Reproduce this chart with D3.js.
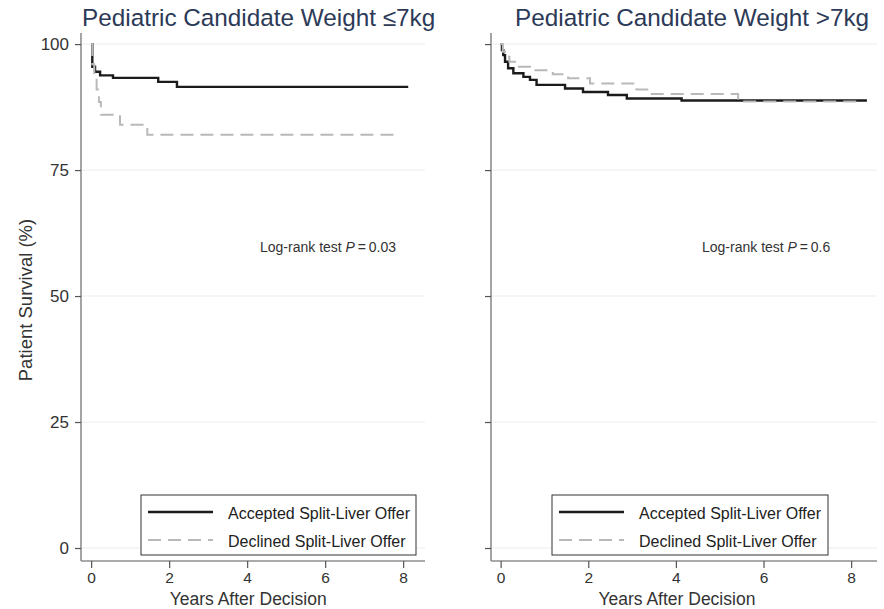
<!DOCTYPE html>
<html>
<head>
<meta charset="utf-8">
<script src="https://cdn.jsdelivr.net/npm/d3@7"></script>
<style>
  html, body { margin: 0; padding: 0; background: #fff; }
  svg { display: block; font-family: "Liberation Sans", Arial, Helvetica, sans-serif; }
</style>
</head>
<body>
<svg id="chart" width="884" height="609"></svg>
<script>
// Kaplan-Meier survival estimates (years after decision, % surviving)
const lightAcceptedTime = [0, 0.03, 0.1, 0.23, 0.56, 1.72, 2.2, 8.13];
const lightAcceptedSurv = [100, 95.5, 94.5, 93.8, 93.3, 92.5, 91.5, 91.5];
const lightDeclinedTime = [0, 0.03, 0.08, 0.14, 0.2, 0.25, 0.74, 1.44, 7.87];
const lightDeclinedSurv = [100, 96, 93.5, 91, 88.5, 86, 84, 82, 82];

const heavyAcceptedTime = [0, 0.03, 0.06, 0.1, 0.17, 0.29, 0.52, 0.67, 0.82, 1.47, 1.88, 2.45, 2.88, 4.13, 8.36];
const heavyAcceptedSurv = [100, 98.8, 97.8, 96.5, 95.2, 94.2, 93.5, 92.9, 91.9, 91.2, 90.5, 89.9, 89.2, 88.8, 88.8];
const heavyDeclinedTime = [0, 0.05, 0.1, 0.2, 0.33, 0.74, 1.19, 1.54, 2.04, 3.1, 3.45, 5.42, 8.13];
const heavyDeclinedSurv = [100, 98.5, 97.5, 96.5, 95.5, 94.8, 94.0, 93.2, 92.2, 91.0, 90.1, 88.6, 88.6];

const panelTitles = ["Pediatric Candidate Weight \u22647kg", "Pediatric Candidate Weight >7kg"];
const pValues = ["0.03", "0.6"];
const seriesNames = ["Accepted Split-Liver Offer", "Declined Split-Liver Offer"];
const yTicks = [0, 25, 50, 75, 100];
const xTicks = [0, 2, 4, 6, 8];

const svg = d3.select("#chart");

const panels = [
  {
    left: 81, right: 425, xMin: -0.26, xMax: 8.56, showYLabels: true,
    title: panelTitles[0], titleX: 82, p: pValues[0], textX: 260,
    legend: { x: 141, w: 275 },
    series: [
      { t: lightAcceptedTime, s: lightAcceptedSurv, style: "solid" },
      { t: lightDeclinedTime, s: lightDeclinedSurv, style: "dash" }
    ]
  },
  {
    left: 491, right: 877, xMin: -0.22, xMax: 8.59, showYLabels: false,
    title: panelTitles[1], titleX: 515, p: pValues[1], textX: 702,
    legend: { x: 552, w: 276 },
    series: [
      { t: heavyAcceptedTime, s: heavyAcceptedSurv, style: "solid" },
      { t: heavyDeclinedTime, s: heavyDeclinedSurv, style: "dash" }
    ]
  }
];

const styles = {
  solid: { stroke: "#1b1b1b", width: 2.4, dash: null },
  dash: { stroke: "#b9b9b9", width: 2, dash: "13,7" }
};

const plotTop = 33, plotBottom = 561;
const y = d3.scaleLinear().domain([-2.58, 102.2]).range([plotBottom, plotTop]);

panels.forEach(p => {
  const x = d3.scaleLinear().domain([p.xMin, p.xMax]).range([p.left, p.right]);
  const g = svg.append("g");

  // faint horizontal grid
  g.selectAll("line.grid").data(yTicks).join("line")
    .attr("class", "grid")
    .attr("x1", p.left).attr("x2", p.right)
    .attr("y1", d => y(d)).attr("y2", d => y(d))
    .attr("stroke", "#ececec").attr("stroke-width", 1);

  // y axis
  const yAxis = d3.axisLeft(y).tickValues(yTicks).tickSize(6).tickPadding(6)
    .tickFormat(p.showYLabels ? d3.format("d") : () => "");
  const ya = g.append("g").attr("transform", `translate(${p.left},0)`).call(yAxis);
  ya.select(".domain").attr("stroke", "#8e8e8e").attr("stroke-width", 1.6).attr("d", `M0,${plotTop}V${plotBottom}`);
  ya.selectAll(".tick line").attr("stroke", "#555").attr("stroke-width", 1.2);
  ya.selectAll(".tick text").attr("font-size", 17).attr("fill", "#333")
    .attr("font-family", "Liberation Sans, Arial, sans-serif");

  // x axis
  const xAxis = d3.axisBottom(x).tickValues(xTicks).tickSize(7).tickPadding(4);
  const xa = g.append("g").attr("transform", `translate(0,${plotBottom})`).call(xAxis);
  xa.select(".domain").attr("stroke", "#8e8e8e").attr("stroke-width", 1.6).attr("d", `M${p.left},0H${p.right}`);
  xa.selectAll(".tick line").attr("stroke", "#555").attr("stroke-width", 1.2);
  xa.selectAll(".tick text").attr("font-size", 15.5).attr("fill", "#333")
    .attr("font-family", "Liberation Sans, Arial, sans-serif");

  g.append("text")
    .attr("x", (x(0) + x(8)) / 2 + 1).attr("y", 605)
    .attr("text-anchor", "middle").attr("font-size", 17.5).attr("fill", "#333")
    .text("Years After Decision");

  // panel title
  g.append("text")
    .attr("x", p.titleX).attr("y", 26)
    .attr("font-size", 24.3).attr("fill", "#2c3a58")
    .text(p.title);

  // survival curves
  const line = d3.line().curve(d3.curveStepAfter)
    .x(d => x(d[0])).y(d => y(d[1]));
  p.series.forEach(s => {
    const st = styles[s.style];
    const pts = s.t.map((t, i) => [t, s.s[i]]);
    g.append("path").datum(pts)
      .attr("d", line)
      .attr("fill", "none")
      .attr("stroke", st.stroke)
      .attr("stroke-width", st.width)
      .attr("stroke-dasharray", st.dash);
  });

  // log-rank annotation
  const note = g.append("text").attr("x", p.textX).attr("y", 252)
    .attr("font-size", 14).attr("fill", "#333");
  note.append("tspan").text("Log-rank test ");
  note.append("tspan").attr("font-style", "italic").text("P");
  note.append("tspan").text("\u2009=\u2009" + p.p);

  // legend
  const lg = g.append("g").attr("transform", `translate(${p.legend.x},495)`);
  lg.append("rect").attr("width", p.legend.w).attr("height", 60)
    .attr("fill", "#fff").attr("stroke", "#333").attr("stroke-width", 1);
  ["solid", "dash"].forEach((k, i) => {
    const st = styles[k];
    const yy = 17 + i * 28;
    lg.append("line").attr("x1", 7).attr("x2", 72).attr("y1", yy).attr("y2", yy)
      .attr("stroke", st.stroke).attr("stroke-width", st.width)
      .attr("stroke-dasharray", st.dash);
    lg.append("text").attr("x", 87).attr("y", yy + 7)
      .attr("font-size", 16).attr("fill", "#222")
      .text(seriesNames[i]);
  });
});

// shared y axis title
svg.append("text")
  .attr("transform", "translate(32,300) rotate(-90)")
  .attr("text-anchor", "middle").attr("font-size", 18.5).attr("fill", "#333")
  .text("Patient Survival (%)");
</script>
</body>
</html>
